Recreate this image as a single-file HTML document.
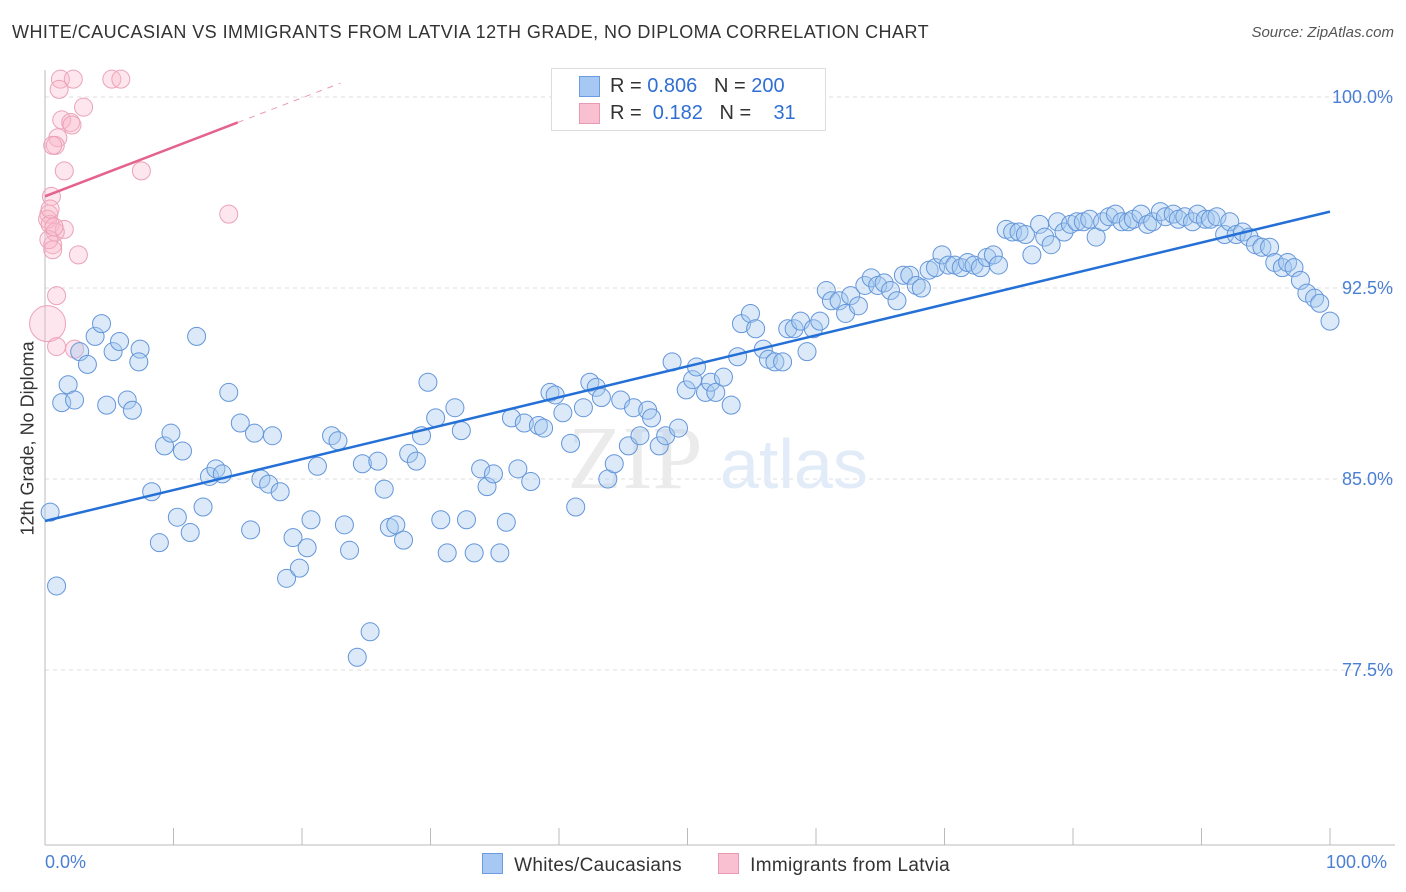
<!DOCTYPE html>
<html><head><meta charset="utf-8"><style>
body{margin:0;background:#fff;font-family:"Liberation Sans",sans-serif}
#wrap{position:relative;width:1406px;height:892px;overflow:hidden}
.t{position:absolute;white-space:nowrap}
</style></head><body>
<div id="wrap">
<div class="t" style="left:12px;top:22px;font-size:18px;letter-spacing:0.45px;color:#333">WHITE/CAUCASIAN VS IMMIGRANTS FROM LATVIA 12TH GRADE, NO DIPLOMA CORRELATION CHART</div>
<div class="t" style="right:12px;top:24px;font-size:15px;color:#555;font-style:italic">Source: ZipAtlas.com</div>
<svg id="svg" width="1406" height="892" style="position:absolute;left:0;top:0"></svg>
</div>
<script>
const blueX=[0.4,0.9,1.3,1.8,2.3,2.7,3.3,3.9,4.4,4.8,5.3,5.8,6.4,6.8,7.4,7.3,8.3,8.9,9.3,9.8,10.3,10.7,11.3,11.8,12.3,12.8,13.3,13.8,14.3,15.2,16.0,16.3,16.8,17.4,17.7,18.3,18.8,19.3,19.8,20.4,20.7,21.2,22.3,22.8,23.3,23.7,24.7,25.3,24.3,25.9,26.4,26.8,27.3,27.9,28.3,28.9,29.3,29.8,30.4,31.3,30.8,31.9,32.4,32.8,33.4,33.9,34.4,34.9,35.4,35.9,36.3,36.8,37.3,37.8,38.4,38.8,39.3,39.7,40.3,40.9,41.3,41.9,42.4,42.9,43.3,43.8,44.3,44.8,45.4,45.8,46.3,46.9,47.2,47.8,48.3,48.8,49.3,49.9,50.4,50.7,51.4,51.8,52.2,52.8,53.4,53.9,54.2,54.9,55.3,55.9,56.3,56.8,57.4,57.8,58.3,58.8,59.3,59.8,60.3,60.8,61.2,61.8,62.3,62.7,63.3,63.8,64.3,64.8,65.3,65.8,66.3,66.8,67.3,67.8,68.2,68.8,69.3,69.8,70.3,70.8,71.3,71.8,72.3,72.8,73.3,73.8,74.2,74.8,75.3,75.8,76.3,76.8,77.4,77.8,78.3,78.8,79.3,79.8,80.3,80.8,81.3,81.8,82.3,82.8,83.3,83.8,84.3,84.7,85.3,85.8,86.2,86.8,87.2,87.8,88.2,88.7,89.3,89.7,90.3,90.7,91.2,91.8,92.2,92.7,93.2,93.7,94.2,94.7,95.3,95.7,96.3,96.7,97.2,97.7,98.2,98.8,99.2,100];
const blueY=[83.7,80.8,88.0,88.7,88.1,90.0,89.5,90.6,91.1,87.9,90.0,90.4,88.1,87.7,90.1,89.6,84.5,82.5,86.3,86.8,83.5,86.1,82.9,90.6,83.9,85.1,85.4,85.2,88.4,87.2,83.0,86.8,85.0,84.8,86.7,84.5,81.1,82.7,81.5,82.3,83.4,85.5,86.7,86.5,83.2,82.2,85.6,79.0,78.0,85.7,84.6,83.1,83.2,82.6,86.0,85.7,86.7,88.8,87.4,82.1,83.4,87.8,86.9,83.4,82.1,85.4,84.7,85.2,82.1,83.3,87.4,85.4,87.2,84.9,87.1,87.0,88.4,88.3,87.6,86.4,83.9,87.8,88.8,88.6,88.2,85.0,85.6,88.1,86.3,87.8,86.7,87.7,87.4,86.3,86.7,89.6,87.0,88.5,88.9,89.4,88.4,88.8,88.4,89.0,87.9,89.8,91.1,91.5,90.9,90.1,89.7,89.6,89.6,90.9,90.9,91.2,90.0,90.9,91.2,92.4,92.0,92.0,91.5,92.2,91.8,92.6,92.9,92.6,92.7,92.4,92.0,93.0,93.0,92.6,92.5,93.2,93.3,93.8,93.4,93.4,93.3,93.5,93.4,93.3,93.7,93.8,93.4,94.8,94.7,94.7,94.6,93.8,95.0,94.5,94.2,95.1,94.7,95.0,95.1,95.1,95.2,94.5,95.1,95.3,95.4,95.1,95.1,95.2,95.4,95.0,95.1,95.5,95.3,95.4,95.2,95.3,95.1,95.4,95.2,95.2,95.3,94.6,95.1,94.6,94.7,94.5,94.2,94.1,94.1,93.5,93.3,93.5,93.3,92.8,92.3,92.1,91.9,91.2];
const pinkX=[1.2,2.2,5.2,5.9,1.1,3.0,1.3,2.0,2.1,1.0,0.8,0.6,1.5,7.5,0.5,0.3,0.2,0.4,1.5,0.8,0.6,2.6,14.3,0.9,0.2,0.9,2.3,0.3,0.6,0.4,0.7];
const pinkY=[100.7,100.7,100.7,100.7,100.3,99.6,99.1,99.0,98.9,98.4,98.1,98.1,97.1,97.1,96.1,95.4,95.2,95.0,94.8,94.7,94.2,93.8,95.4,92.2,91.1,90.2,90.1,94.4,94.0,95.6,94.9];
const blueTrend=[83.35,95.5];
const pinkTrend=[96.1,99.0];
const yTicks=[100,92.5,85,77.5];
const yTickLabels=["100.0%","92.5%","85.0%","77.5%"];
const L=45,R=1330,T=97,yPer=191/7.5;
const sx=v=>L+(R-L)*v/100;
const sy=v=>T+(100-v)*yPer;
const svg=document.getElementById('svg');
const NS='http://www.w3.org/2000/svg';
function mk(tag,a){const e=document.createElementNS(NS,tag);for(const k in a)e.setAttribute(k,a[k]);svg.appendChild(e);return e;}
yTicks.forEach((v,i)=>{
 const g=mk('line',{x1:L,x2:1395,y1:sy(v),y2:sy(v),stroke:'#ddd','stroke-dasharray':'4,4'});
 
 
 const t=mk('text',{x:1393,y:sy(v)+6,'text-anchor':'end','font-size':18,fill:'#4a7fd4'});
 t.textContent=yTickLabels[i];
 
 
});
const ax=mk('line',{x1:L,x2:1395,y1:845,y2:845,stroke:'#bbb'});


const ay=mk('line',{x1:L,x2:L,y1:70,y2:845,stroke:'#bbb'});


for(let i=0;i<=10;i++){const tk=mk('line',{x1:sx(i*10),x2:sx(i*10),y1:828,y2:845,stroke:'#bbb'});
 
 }
const wm=mk('text',{x:635,y:488,'text-anchor':'middle','font-size':90,fill:'#ebebeb','font-family':'Liberation Serif'});
wm.textContent='ZIP';


const wm2=mk('text',{x:720,y:488,'font-size':70,fill:'#e2ecf8'});
wm2.textContent='atlas';


pinkX.forEach((x,i)=>{const c=mk('circle',{cx:sx(x),cy:sy(pinkY[i]),r:(i==24?18:9),fill:'rgba(248,182,202,0.35)',stroke:'#eba2b9','stroke-width':1});
 
 });
blueX.forEach((x,i)=>{const c=mk('circle',{cx:sx(x),cy:sy(blueY[i]),r:9,fill:'rgba(165,199,240,0.4)',stroke:'#6496da','stroke-width':1});
 
 });
const bl=mk('line',{x1:sx(0),y1:sy(blueTrend[0]),x2:sx(100),y2:sy(blueTrend[1]),stroke:'#2470d6','stroke-width':2.5});


const ps=(pinkTrend[1]-pinkTrend[0])/15;
const pl=mk('line',{x1:sx(0),y1:sy(pinkTrend[0]),x2:sx(15),y2:sy(pinkTrend[1]),stroke:'#e5628c','stroke-width':2.5});


const pd=mk('line',{x1:sx(15),y1:sy(pinkTrend[1]),x2:sx(23),y2:sy(pinkTrend[0]+ps*23),stroke:'#e99ab3','stroke-width':1,'stroke-dasharray':'6,6'});


</script>
<div class="t" style="left:-52px;top:445px;font-size:18px;color:#333;transform:rotate(-90deg);width:160px;text-align:center">12th Grade, No Diploma</div>
<div class="t" style="left:45px;top:852px;font-size:18px;color:#4a7fd4">0.0%</div>
<div class="t" style="left:1326px;top:852px;font-size:18px;color:#4a7fd4">100.0%</div>
<div style="position:absolute;left:551px;top:68px;width:273px;height:61px;border:1px solid #ddd;background:#fff;font-size:20px;color:#333">
 <div style="position:absolute;left:27px;top:7px;width:19px;height:19px;background:#a8c8f4;border:1px solid #6b9be0"></div>
 <div class="t" style="left:58px;top:6px">R = <span style="color:#2f6fd3">0.806</span>&nbsp;&nbsp;&nbsp;N = <span style="color:#2f6fd3">200</span></div>
 <div style="position:absolute;left:27px;top:34px;width:19px;height:19px;background:#f8c0d0;border:1px solid #e99ab3"></div>
 <div class="t" style="left:58px;top:33px">R = &nbsp;<span style="color:#2f6fd3">0.182</span>&nbsp;&nbsp;&nbsp;N = &nbsp;&nbsp;&nbsp;<span style="color:#2f6fd3">31</span></div>
</div>
<div style="position:absolute;left:482px;top:853px;font-size:19px;letter-spacing:0.3px;color:#333">
 <span style="display:inline-block;width:19px;height:19px;background:#a8c8f4;border:1px solid #6b9be0;vertical-align:-3px"></span>&nbsp; Whites/Caucasians</div>
<div style="position:absolute;left:718px;top:853px;font-size:19px;letter-spacing:0.3px;color:#333">
 <span style="display:inline-block;width:19px;height:19px;background:#f8c0d0;border:1px solid #e99ab3;vertical-align:-3px"></span>&nbsp; Immigrants from Latvia</div>
</body></html>
